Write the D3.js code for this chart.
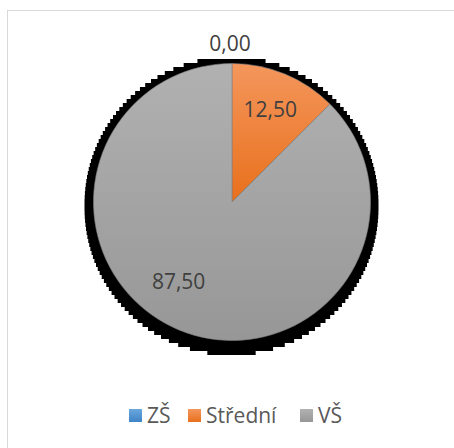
<!DOCTYPE html>
<html>
<head>
<meta charset="utf-8">
<script src="https://cdn.jsdelivr.net/npm/d3@7"></script>
<style>
  html, body { margin: 0; padding: 0; background: #fff; }
  svg { display: block; }
</style>
</head>
<body>
<svg id="chart" width="454" height="448"></svg>
<script>
// data
const categories = ['ZŠ', 'Střední', 'VŠ']
const values = [0, 12.5, 87.5]
const labels = ['0,00', '12,50', '87,50']

const width = 454
const height = 448
const cx = 232
const cy = 202
const radius = 138.5

const gradients = [
  ['#6aa7dd', '#3f84c6'],
  ['#f4965c', '#e8701c'],
  ['#b1b1b1', '#979797'],
]

const svg = d3.select('#chart')

// background + frame
svg.append('rect')
  .attr('width', width).attr('height', height).attr('fill', '#fff')
svg.append('rect')
  .attr('x', 7.5).attr('y', 10.5)
  .attr('width', width).attr('height', height)
  .attr('fill', 'none').attr('stroke', '#d9d9d9')

// gradients, one per slice
const defs = svg.append('defs')
gradients.forEach((g, i) => {
  const lg = defs.append('linearGradient')
    .attr('id', 'grad' + i)
    .attr('x1', 0).attr('y1', 0).attr('x2', 0).attr('y2', 1)
  lg.append('stop').attr('offset', '0%').attr('stop-color', g[0])
  lg.append('stop').attr('offset', '100%').attr('stop-color', g[1])
})

// blocky shadow behind the pie
const shR = 147, shX = 231.5, shY = 206, step = 4
const rows = d3.range(shY - shR, shY + shR, step)
let left = [], right = []
rows.forEach((y) => {
  const mid = Math.min(Math.abs(y - shY), Math.abs(y + step - shY))
  const hw = Math.sqrt(Math.max(0, shR * shR - mid * mid))
  right.push([shX + hw, y], [shX + hw, y + step])
  left.push([shX - hw, y], [shX - hw, y + step])
})
svg.append('path')
  .attr('d', d3.line()(right.concat(left.reverse())) + 'Z')
  .attr('fill', '#000')

// pie
const pie = d3.pie().sort(null).value((d) => d)
const arcs = pie(values)
const arc = d3.arc().innerRadius(0).outerRadius(radius)

const g = svg.append('g').attr('transform', `translate(${cx},${cy})`)

g.selectAll('path.slice')
  .data(arcs)
  .join('path')
  .attr('class', 'slice')
  .attr('d', arc)
  .attr('fill', (d, i) => `url(#grad${i})`)
  .attr('stroke', (d) => (d.value > 0 ? '#7f7f7f' : 'none'))
  .attr('stroke-width', 0.6)

// data labels (excel "best fit" puts the big one a bit further round)
const labelR = radius * 0.72
const bestFitShift = [0, 0, 0.2] // extra angle in radians
g.selectAll('text.lbl')
  .data(arcs)
  .join('text')
  .attr('class', 'lbl')
  .attr('transform', (d, i) => {
    if (d.value === 0) return `translate(-2,${-radius - 20})`
    const a = (d.startAngle + d.endAngle) / 2 + bestFitShift[i]
    const r = i === 2 ? radius * 0.69 : labelR
    return `translate(${Math.sin(a) * r},${-Math.cos(a) * r})`
  })
  .attr('text-anchor', 'middle')
  .attr('dy', '0.35em')
  .attr('font-family', 'Open Sans')
  .attr('font-size', 21)
  .attr('fill', '#404040')
  .text((d, i) => labels[i])

// legend
const legendX = [129, 188, 300]
const legend = svg.append('g').attr('transform', 'translate(0,409)')
const items = legend.selectAll('g')
  .data(categories)
  .join('g')
  .attr('transform', (d, i) => `translate(${legendX[i]},0)`)
items.append('rect')
  .attr('width', 13).attr('height', 13)
  .attr('fill', (d, i) => `url(#grad${i})`)
items.append('text')
  .attr('x', 18).attr('y', 14)
  .attr('font-family', 'Open Sans')
  .attr('font-size', 21)
  .attr('fill', '#595959')
  .text((d) => d)
</script>
</body>
</html>
